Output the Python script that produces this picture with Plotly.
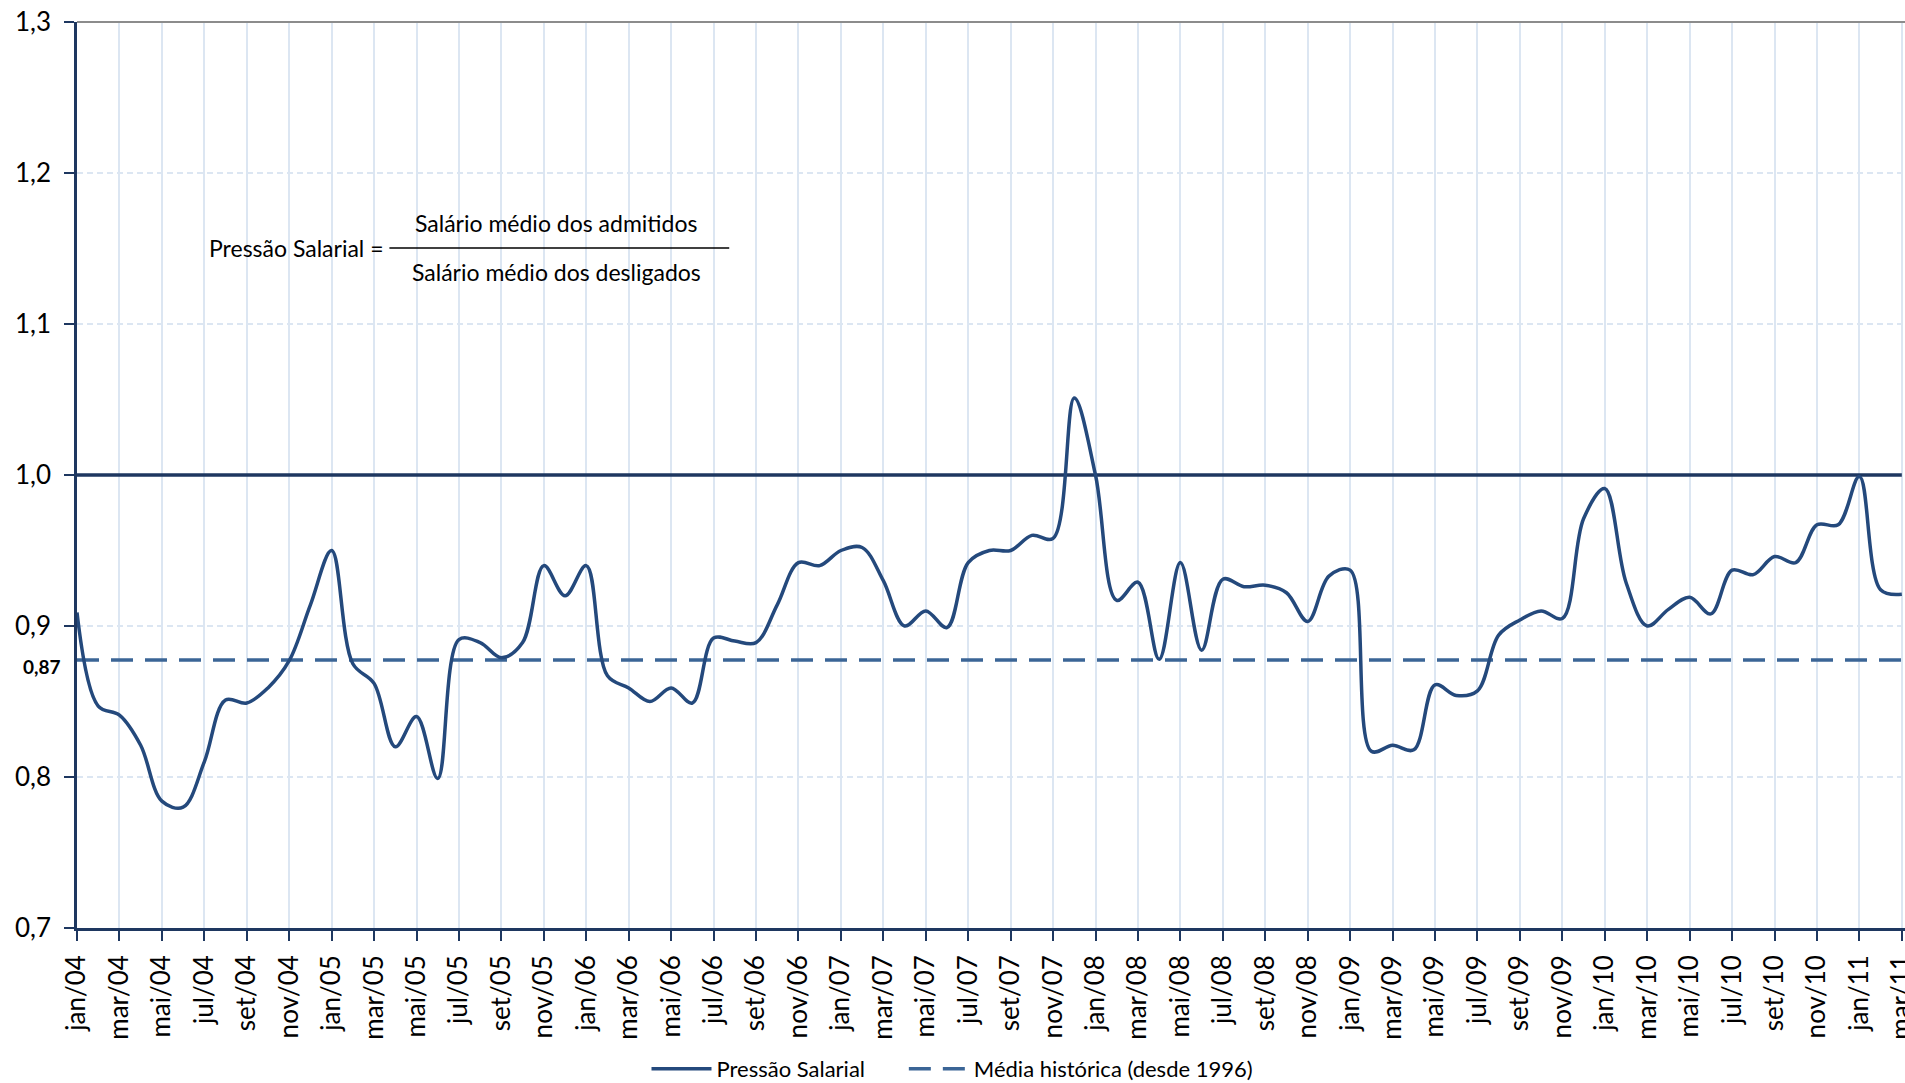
import plotly.graph_objects as go

# ---- data ----
month_names = ["jan", "fev", "mar", "abr", "mai", "jun", "jul", "ago", "set", "out", "nov", "dez"]
years = ["04", "05", "06", "07", "08", "09", "10", "11"]
categories = [f"{m}/{y}" for y in years for m in month_names][:87]  # jan/04 .. mar/11

pressao_salarial = [
    0.909, 0.847, 0.841, 0.821, 0.784, 0.780, 0.810, 0.851, 0.849, 0.859, 0.877, 0.914,  # 2004
    0.950, 0.875, 0.862, 0.820, 0.840, 0.799, 0.891, 0.889, 0.879, 0.889, 0.940, 0.920,  # 2005
    0.940, 0.867, 0.859, 0.850, 0.859, 0.849, 0.892, 0.890, 0.889, 0.914, 0.942, 0.940,  # 2006
    0.950, 0.952, 0.930, 0.900, 0.910, 0.899, 0.942, 0.950, 0.950, 0.960, 0.958, 1.051,  # 2007
    1.000, 0.917, 0.929, 0.878, 0.942, 0.884, 0.931, 0.926, 0.927, 0.922, 0.903, 0.933,  # 2008
    0.937, 0.817, 0.821, 0.818, 0.861, 0.854, 0.857, 0.894, 0.904, 0.910, 0.905, 0.971,  # 2009
    0.991, 0.929, 0.900, 0.911, 0.919, 0.908, 0.937, 0.934, 0.946, 0.942, 0.967, 0.967,  # 2010
    0.999, 0.924, 0.921,                                                                  # 2011
]
media_historica = 0.8775
media_label = "0,87"
referencia = 1.0

x_idx = list(range(len(categories)))
tick_idx = x_idx[::2]
tick_text = categories[::2]

FONT = "Lato, 'Open Sans', sans-serif"
NAVY = "#24497c"
DARK = "#1e3760"
DASHC = "#3b6596"
GRID = "#dce6f2"

fig = go.Figure()

# reference line at 1.0
fig.add_trace(go.Scatter(
    x=x_idx, y=[referencia] * len(x_idx), mode="lines",
    line=dict(color=DARK, width=3.5), showlegend=False, hoverinfo="skip",
))
# historical mean
fig.add_trace(go.Scatter(
    x=x_idx, y=[media_historica] * len(x_idx), mode="lines",
    name="Média histórica (desde 1996)",
    line=dict(color=DASHC, width=3.5, dash="22px,12px"),
    legendrank=2,
))
# main series
fig.add_trace(go.Scatter(
    x=x_idx, y=pressao_salarial, mode="lines",
    name="Pressão Salarial      ",
    line=dict(color=NAVY, width=3.5, shape="spline", smoothing=1.0),
    legendrank=1,
))

fig.update_layout(
    width=1905, height=1083,
    margin=dict(l=77, r=0, t=22, b=155, autoexpand=False),
    paper_bgcolor="white", plot_bgcolor="white",
    separators=",.",
    font=dict(family=FONT, size=22, color="#000000"),
    showlegend=True,
    legend=dict(
        orientation="h", xref="container", yref="container",
        x=0.5, xanchor="center", y=0.013, yanchor="middle",
        font=dict(size=22, family=FONT), itemwidth=60,
        traceorder="normal",
    ),
    xaxis=dict(
        range=[0, 86.15], tickmode="array", tickvals=tick_idx, ticktext=tick_text,
        tickangle=-90, tickfont=dict(size=26, family=FONT),
        ticklabeloverflow="allow", ticklabelstandoff=4, automargin=False,
        showgrid=True, gridcolor=GRID, gridwidth=1.5,
        showline=True, linecolor=DARK, linewidth=2.5,
        ticks="outside", ticklen=10, tickcolor=DARK, tickwidth=2,
        zeroline=False,
    ),
    yaxis=dict(
        range=[0.7, 1.3], tickmode="array",
        tickvals=[0.7, 0.8, 0.9, 1.0, 1.1, 1.2, 1.3],
        tickformat=".1f", tickfont=dict(size=26, family=FONT),
        ticklabelstandoff=8, automargin=False,
        showgrid=True, gridcolor=GRID, gridwidth=1.5, griddash="6px,4px",
        showline=True, linecolor=DARK, linewidth=2.5,
        ticks="outside", ticklen=10, tickcolor=DARK, tickwidth=2,
        zeroline=False,
    ),
)

# top border of plot area
fig.add_shape(type="line", xref="paper", yref="paper", x0=0, x1=1, y0=1, y1=1,
              line=dict(color="#8c8c8c", width=2))

# mean label
fig.add_annotation(xref="paper", yref="y", x=-0.019, y=0.8733, text="<b>" + media_label + "</b>",
                   showarrow=False, xanchor="center", yanchor="middle",
                   font=dict(size=19, family=FONT, color="#000000"))

# formula text
fig.add_annotation(xref="paper", yref="paper", x=0.1692, y=0.7506, text="Pressão Salarial =",
                   showarrow=False, xanchor="right", yanchor="middle",
                   font=dict(size=23, family=FONT))
fig.add_annotation(xref="paper", yref="paper", x=0.2622, y=0.778, text="Salário médio dos admitidos",
                   showarrow=False, xanchor="center", yanchor="middle",
                   font=dict(size=23, family=FONT))
fig.add_annotation(xref="paper", yref="paper", x=0.2622, y=0.7241, text="Salário médio dos desligados",
                   showarrow=False, xanchor="center", yanchor="middle",
                   font=dict(size=23, family=FONT))
fig.add_shape(type="line", xref="paper", yref="paper", x0=0.1709, x1=0.3568, y0=0.7506, y1=0.7506,
              line=dict(color="#000000", width=1.5))

fig.write_html("out.html")
